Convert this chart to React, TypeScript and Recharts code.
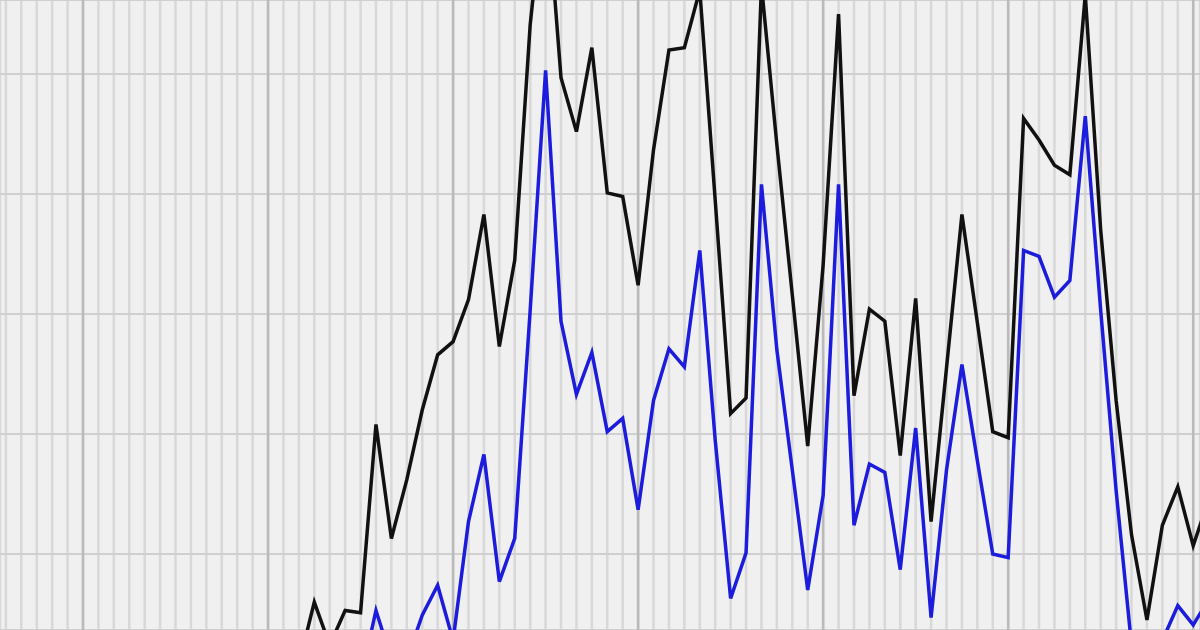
import { LineChart, Line, XAxis, YAxis, CartesianGrid, ReferenceLine } from 'recharts';

// month index of the first value in each series (one value per month)
const blackStart = 14;
const blackValues = [
  0.8, 6.0, 2.4, 5.3, 5.1, 20.8, 11.3, 16.2, 22.0, 26.6,
  27.7, 31.2, 38.3, 27.3, 34.5, 54.1, 66.2, 49.7, 45.2, 52.2,
  40.1, 39.8, 32.4, 43.7, 52.0, 52.2, 57.0, 39.5, 21.7, 23.0,
  57.4, 44.1, 31.6, 19.0, 34.1, 55.0, 23.2, 30.4, 29.4, 18.2,
  31.3, 12.7, 25.5, 38.3, 29.3, 20.2, 19.7, 46.3, 44.5, 42.4,
  41.6, 56.6, 37.0, 22.8, 11.6, 4.5, 12.4, 15.6, 10.7, 14.5,
];

const blueStart = 18;
const blueValues = [
  -0.5, 5.3, 1.2, 1.2, 4.9, 7.4, 2.8, 12.7, 18.3, 7.7,
  11.3, 30.3, 50.3, 29.4, 23.3, 26.8, 20.2, 21.3, 13.7, 22.8,
  27.1, 25.6, 35.3, 19.5, 6.3, 10.1, 40.8, 27.0, 17.0, 7.0,
  14.9, 40.8, 12.4, 17.5, 16.8, 8.7, 20.5, 4.7, 17.0, 25.8,
  17.8, 10.0, 9.7, 35.3, 34.8, 31.4, 32.8, 46.5, 30.3, 15.3,
  2.4, -1.3, 2.8, 5.7, 4.1, 6.2,
];

const firstMonth = -6;
const lastMonth = 73;
const yearTicks = [0, 12, 24, 36, 48, 60, 72];
const yTicks = [10, 20, 30, 40, 50];

const monthTicks: number[] = [];
for (let m = -5; m <= 72; m++) monthTicks.push(m);

const data: { month: number; black: number | null; blue: number | null }[] = [];
for (let m = firstMonth; m <= lastMonth; m++) {
  const bi = m - blackStart;
  const ui = m - blueStart;
  data.push({
    month: m,
    black: bi >= 0 && bi < blackValues.length ? blackValues[bi] : null,
    blue: ui >= 0 && ui < blueValues.length ? blueValues[ui] : null,
  });
}

export default function App() {
  return (
    <div
      style={{
        position: 'absolute',
        top: 0,
        left: 0,
        width: 1200,
        height: 630,
        overflow: 'hidden',
        background: '#f0f0f0',
      }}
    >
      <LineChart width={1200} height={630} data={data} margin={{ top: 0, right: 0, bottom: 0, left: 0 }}>
        <CartesianGrid stroke="#d8d8d8" strokeWidth={2.5} horizontal={false} />
        <CartesianGrid stroke="#cfcfcf" strokeWidth={2} vertical={false} />
        <XAxis
          hide
          type="number"
          dataKey="month"
          domain={[-5.383, 72.44]}
          ticks={monthTicks}
          interval={0}
          allowDataOverflow
        />
        <YAxis hide type="number" domain={[3.67, 56.17]} ticks={yTicks} interval={0} allowDataOverflow />
        {yearTicks.map((t) => (
          <ReferenceLine key={t} x={t} stroke="#bababa" strokeWidth={2.5} />
        ))}
        <Line
          type="linear"
          dataKey="black"
          stroke="#111111"
          strokeWidth={3.5}
          dot={false}
          isAnimationActive={false}
        />
        <Line
          type="linear"
          dataKey="blue"
          stroke="#1c1cdc"
          strokeWidth={3.5}
          dot={false}
          isAnimationActive={false}
        />
      </LineChart>
    </div>
  );
}
